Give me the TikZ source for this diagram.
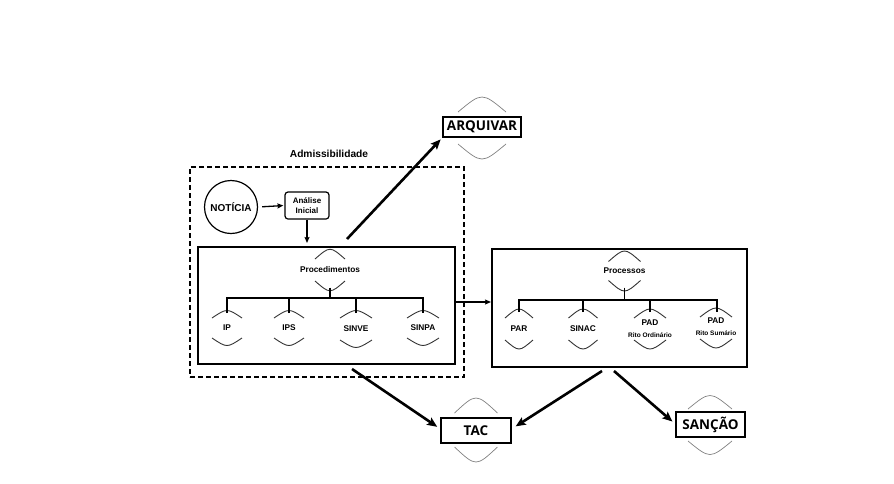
\documentclass[tikz,border=0pt]{standalone}
\usepackage{fontspec}
\setmainfont{Liberation Sans}
\newfontfamily\opensans{Open Sans}
\usetikzlibrary{arrows.meta,calc}
\tikzset{
  lbl/.style={font=\bfseries\fontsize{8.3}{10}\selectfont, inner sep=0pt, align=center},
  bigbox/.style={draw, line width=2.6pt, inner sep=0pt, font=\opensans\bfseries\fontsize{13.5}{15}\selectfont},
  framebox/.style={draw, line width=2pt, inner sep=0pt},
  arcline/.style={draw=black!80, line width=0.9pt},
  outerarc/.style={arcline/.style={draw=black!50, line width=0.7pt}},
  treeline/.style={draw, line width=1.5pt},
  bigarrow/.style={draw, line width=2.6pt, -{Stealth[length=10pt,width=8.5pt,inset=2pt]}},
  smallarrow/.style={draw, line width=1.3pt, -{Stealth[length=6pt,width=5pt,inset=1pt]}},
  pics/lens/.style n args={3}{code={
    \draw[arcline] (-#1,-#2+#3) .. controls (0,-#2-#3) .. (#1,-#2+#3);
    \draw[arcline] (-#1,#2-#3) .. controls (0,#2+#3) .. (#1,#2-#3);}}
}
\begin{document}
\begin{tikzpicture}[x=1pt,y=-1pt]
\useasboundingbox (0,0) rectangle (894,483);

% admissibility frame
\node[lbl, font=\bfseries\fontsize{10.2}{12}\selectfont] (admtitle) at (329,154) {Admissibilidade};
\node[draw, dashed, dash pattern=on 5pt off 3pt, line width=1.8pt, minimum width=274pt, minimum height=210pt, inner sep=0pt] (admbox) at (327,272) {};

\node[circle, draw, line width=1.2pt, minimum size=53pt, inner sep=0pt, font=\bfseries\fontsize{10}{12}\selectfont] (noticia) at (231,207) {NOTÍCIA};
\node[draw, rounded corners=3pt, line width=1.2pt, minimum width=44pt, minimum height=27pt, inner sep=0pt, align=center, font=\bfseries\fontsize{8}{10}\selectfont] (analise) at (307,205.5) {Análise\\Inicial};

% procedimentos
\node[framebox, minimum width=257pt, minimum height=117pt] (procbox) at (326.5,305.5) {};
\node[lbl] (procl) at (330,270) {Procedimentos};
\pic at (procl) {lens={15}{17.5}{6.5}};
\node[lbl] (ip) at (227,328) {IP};
\node[lbl] (ips) at (289,328) {IPS};
\node[lbl] (sinve) at (356,329) {SINVE};
\node[lbl] (sinpa) at (423,328) {SINPA};
\pic at (ip) {lens={15}{15}{5}};
\pic at (ips) {lens={15}{15}{5}};
\pic at (sinve) {lens={16}{16}{5}};
\pic at (sinpa) {lens={16}{15}{5}};
\coordinate (pj) at (330,298);
\draw[treeline] ($(procl)+(0,17.5)$) -- (pj);
\draw[treeline] ($(ip)+(0,-15)$) |- (pj) -| ($(sinpa)+(0,-15)$);
\draw[treeline] ($(ips)+(0,-15)$) -- (ips |- pj);
\draw[treeline] ($(sinve)+(0,-16)$) -- (sinve |- pj);

% processos
\node[framebox, minimum width=255pt, minimum height=118pt] (prcbox) at (619.5,308) {};
\node[lbl] (prcl) at (624.5,271) {Processos};
\pic at (prcl) {lens={16}{16.5}{7}};
\node[lbl] (par) at (519,329) {PAR};
\node[lbl] (sinac) at (583,329) {SINAC};
\node[lbl] (pado) at (650,328.5) {PAD\\[2pt]{\fontsize{6.5}{8}\selectfont Rito Ordinário}};
\node[lbl] (pads) at (716,327) {PAD\\[2pt]{\fontsize{6.5}{8}\selectfont Rito Sumário}};
\pic at (par) {lens={14}{17}{6}};
\pic at (sinac) {lens={14.5}{17}{6}};
\pic at (650,329) {lens={16}{17}{6}};
\pic at (716,328) {lens={16}{17}{6}};
\coordinate (qj) at (624.5,300);
\draw[treeline] ($(prcl)+(0,16.5)$) -- (qj);
\draw[treeline] (519,312) |- (qj) -| (717,312);
\draw[treeline] (583,312) -- (583,300);
\draw[treeline] (650,312) -- (650,300);

% outcomes
\node[bigbox, minimum width=78pt, minimum height=20pt] (arq) at (482,127) {ARQUIVAR};
\pic[outerarc] at (482,128) {lens={24}{26}{10}};
\node[bigbox, minimum width=70pt, minimum height=25pt] (tac) at (476,430.5) {TAC};
\pic[outerarc] at (476,430) {lens={21.5}{27}{10}};
\node[bigbox, minimum width=69pt, minimum height=25pt] (sancao) at (710.5,424.5) {SANÇÃO};
\pic[outerarc] at (710,425) {lens={22}{25}{9}};

% connectors
\draw[smallarrow, shorten <=4pt, shorten >=1pt] (noticia.east) -- (analise.west);
\draw[smallarrow, shorten >=3pt] (analise.south) -- (analise.south |- procbox.north);
\draw[smallarrow, line width=1.5pt] ($(procbox.east)+(0,-3.5)$) -- ($(prcbox.west)+(0,-6)$);

\coordinate (a1) at (347,239);
\coordinate (a2) at (352,369);
\coordinate (a3) at (602,371);
\coordinate (a4) at (614,371);
\draw[bigarrow, shorten >=1.5pt] (a1) -- (arq.south west);
\draw[bigarrow, shorten >=3pt] (a2) -- ($(tac.west)+(0,-2)$);
\draw[bigarrow, shorten >=4pt] (a3) -- ($(tac.east)+(0,-2)$);
\draw[bigarrow, shorten >=3pt] (a4) -- ($(sancao.west)+(0,-1)$);
\end{tikzpicture}
\end{document}
